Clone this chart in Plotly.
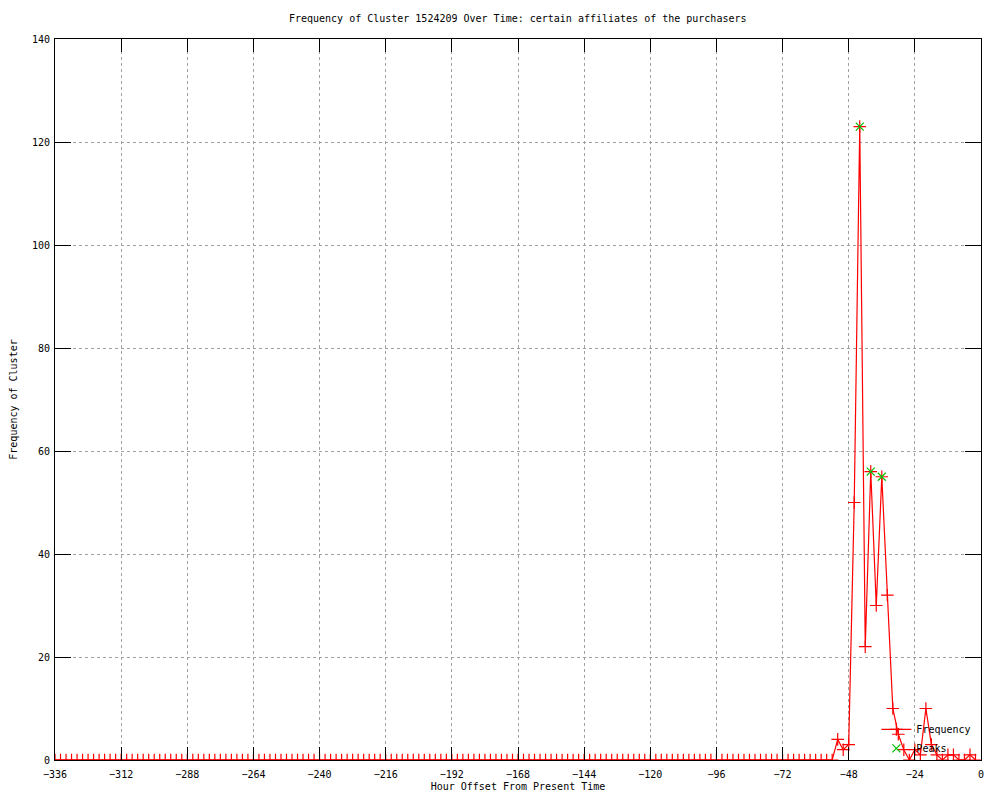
import plotly.graph_objects as go

# ---- data ----
hours = list(range(-336, 0, 2))  # -336 ... -2, every 2 hours

frequency = [
    0, 0, 0, 0, 0, 0, 0, 0, 0, 0, 0, 0, 0, 0, 0, 0, 0, 0, 0, 0,
    0, 0, 0, 0, 0, 0, 0, 0, 0, 0, 0, 0, 0, 0, 0, 0, 0, 0, 0, 0,
    0, 0, 0, 0, 0, 0, 0, 0, 0, 0, 0, 0, 0, 0, 0, 0, 0, 0, 0, 0,
    0, 0, 0, 0, 0, 0, 0, 0, 0, 0, 0, 0, 0, 0, 0, 0, 0, 0, 0, 0,
    0, 0, 0, 0, 0, 0, 0, 0, 0, 0, 0, 0, 0, 0, 0, 0, 0, 0, 0, 0,
    0, 0, 0, 0, 0, 0, 0, 0, 0, 0, 0, 0, 0, 0, 0, 0, 0, 0, 0, 0,
    0, 0, 0, 0, 0, 0, 0, 0, 0, 0, 0, 0, 0, 0, 0, 0, 0, 0, 0, 0,
    0, 0,
    4, 2, 3, 50, 123, 22, 56, 30, 55, 32, 10, 5, 2, 0, 2, 1, 10, 3, 1, 0,
    1, 1, 0, 0, 1, 0,
]

peak_hours = [-44, -40, -36]
peak_values = [123, 56, 55]

x_ticks = [-336, -312, -288, -264, -240, -216, -192, -168, -144, -120, -96, -72, -48, -24, 0]
y_ticks = [0, 20, 40, 60, 80, 100, 120, 140]

title_text = "Frequency of Cluster 1524209 Over Time: certain affiliates of the purchasers"
x_title = "Hour Offset From Present Time"
y_title = "Frequency of Cluster"

FONT = "DejaVu Sans Mono"

fig = go.Figure()
fig.add_trace(go.Scatter(
    x=hours, y=frequency, name="Frequency", mode="lines+markers",
    line=dict(color="#ff0000", width=1.2),
    marker=dict(symbol="cross-thin", size=9, line=dict(color="#ff0000", width=1.2)),
))
fig.add_trace(go.Scatter(
    x=peak_hours, y=peak_values, name="Peaks", mode="markers",
    marker=dict(symbol="x-thin", size=8, line=dict(color="#00c000", width=1.2)),
))

# The page body has an 8px margin, so the figure is sized to fit the window.
fig.update_layout(
    width=984, height=784,
    margin=dict(l=47, r=11, t=31, b=32, autoexpand=False),
    paper_bgcolor="white", plot_bgcolor="white",
    font=dict(family=FONT, size=10, color="black"),
    title=dict(text=title_text, x=0.518, xanchor="center", y=0.987, yanchor="middle",
               font=dict(family=FONT, size=10, color="black")),
    showlegend=True,
    legend=dict(x=0.995, xanchor="right", y=-0.004, yanchor="bottom",
                bgcolor="rgba(0,0,0,0)", font=dict(family=FONT, size=10),
                tracegroupgap=0, itemwidth=30),
    xaxis=dict(
        range=[-336, 0], tickmode="array", tickvals=x_ticks,
        ticks="inside", ticklen=13, tickcolor="black", tickwidth=1,
        showline=True, linecolor="black", linewidth=1, mirror="allticks",
        showgrid=True, gridcolor="#a0a0a0", griddash="dot", gridwidth=1,
        zeroline=False, automargin=False, ticklabelstandoff=5,
        title=dict(text=x_title, standoff=24, font=dict(family=FONT, size=10)),
        tickfont=dict(family=FONT, size=10),
    ),
    yaxis=dict(
        range=[0, 140], tickmode="array", tickvals=y_ticks,
        ticks="inside", ticklen=16, tickcolor="black", tickwidth=1,
        showline=True, linecolor="black", linewidth=1, mirror="allticks",
        showgrid=True, gridcolor="#a0a0a0", griddash="dot", gridwidth=1,
        zeroline=False, automargin=False, ticklabelstandoff=2,
        title=dict(text=y_title, standoff=14, font=dict(family=FONT, size=10)),
        tickfont=dict(family=FONT, size=10),
    ),
)

fig.write_html("out.html")
